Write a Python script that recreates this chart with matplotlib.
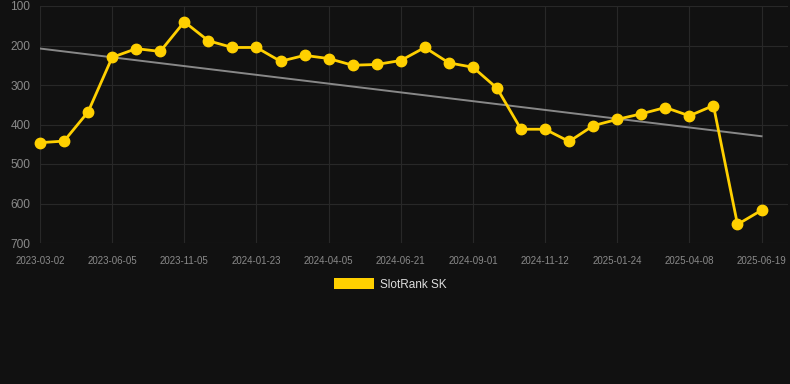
import matplotlib
matplotlib.use("Agg")
import matplotlib.pyplot as plt
from matplotlib.patches import Patch
import numpy as np

dates = ["2023-03-02", "", "", "2023-06-05", "", "", "2023-11-05", "", "", "2024-01-23", "", "",
         "2024-04-05", "", "", "2024-06-21", "", "", "2024-09-01", "", "", "2024-11-12", "", "",
         "2025-01-24", "", "", "2025-04-08", "", "", "2025-06-19"]
ranks = [446, 442, 368, 230, 208, 215, 140, 188, 205, 205, 240, 225, 233, 250, 248, 238,
         205, 244, 255, 308, 412, 412, 443, 403, 387, 373, 357, 378, 352, 653, 617]
series_name = "SlotRank SK"

plt.rcParams['font.family'] = ['Liberation Sans', 'DejaVu Sans']

bg = "#111111"
grid_c = "#282828"
fig = plt.figure(figsize=(7.9, 3.84), dpi=100, facecolor=bg)
ax = fig.add_axes([40/790, (384-243)/384, 748/790, (243-6)/384])
ax.set_facecolor(bg)

x = np.arange(len(ranks))
coef = np.polyfit(x, ranks, 1)
ax.plot(x, np.polyval(coef, x), color="#888888", lw=1.4, zorder=2)
ax.plot(x, ranks, color="#FFD000", lw=2.0, marker="o", ms=7.5, zorder=3, clip_on=False)

ax.set_ylim(700, 100)
ax.set_xlim(0, 31.1)
ax.set_yticks([100, 200, 300, 400, 500, 600, 700])
tick_idx = [i for i, d in enumerate(dates) if d]
ax.set_xticks(tick_idx)
ax.set_xticklabels([dates[i] for i in tick_idx])
ax.set_xticks([0], minor=True)
ax.grid(True, color=grid_c, lw=0.8)
ax.set_axisbelow(True)
for s in ax.spines.values():
    s.set_visible(False)
ax.tick_params(axis="y", length=0, pad=7, labelsize=8.6, labelcolor="#8a8a8a")
ax.tick_params(axis="x", which="major", length=0, pad=9, labelsize=7, labelcolor="#8a8a8a")
ax.tick_params(axis="x", which="minor", length=7, width=0.8, color=grid_c)

leg = fig.legend(handles=[Patch(facecolor="#FFD000", edgecolor="none")], labels=[series_name],
                 loc="center", bbox_to_anchor=(390/790, (384-284.5)/384), frameon=False,
                 handlelength=3.4, handleheight=0.95, handletextpad=0.5,
                 fontsize=8.5, labelcolor="#dddddd")

fig.savefig("out.png", dpi=100, facecolor=bg)
